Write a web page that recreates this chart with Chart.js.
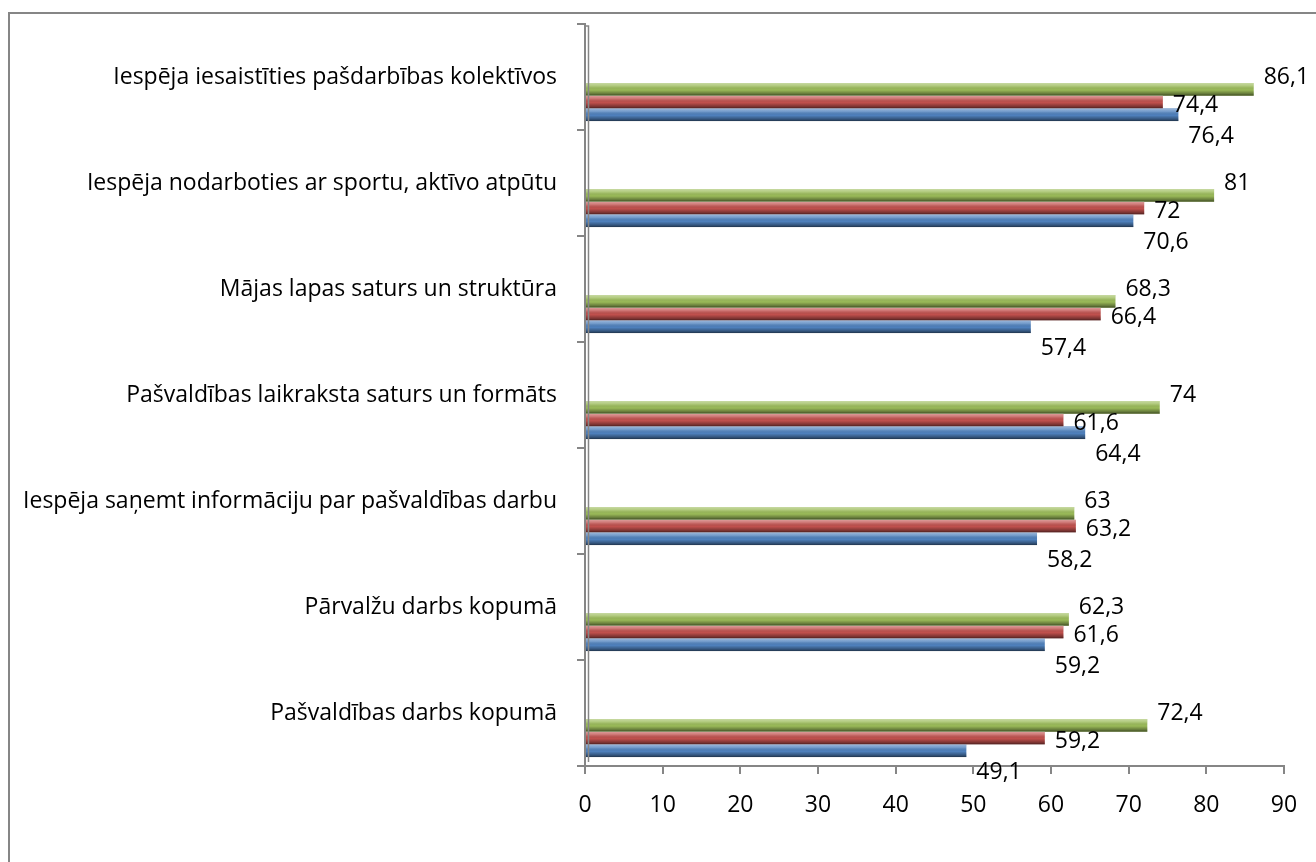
<!DOCTYPE html>
<html>
<head>
<meta charset="utf-8">
<script src="https://cdn.jsdelivr.net/npm/chart.js@4"></script>
<style>
  html, body { margin: 0; padding: 0; background: #fff; }
  #wrap { width: 1316px; height: 862px; position: relative; }
</style>
</head>
<body>
<div id="wrap"><canvas id="myChart"></canvas></div>
<script>
// categories top to bottom
const categories = [
    'Iespēja iesaistīties pašdarbības kolektīvos',
    'Iespēja nodarboties ar sportu, aktīvo atpūtu',
    'Mājas lapas saturs un struktūra',
    'Pašvaldības laikraksta saturs un formāts',
    'Iespēja saņemt informāciju par pašvaldības darbu',
    'Pārvalžu darbs kopumā',
    'Pašvaldības darbs kopumā'
];
const greenValues = [86.1, 81, 68.3, 74, 63, 62.3, 72.4];
const redValues = [74.4, 72, 66.4, 61.6, 63.2, 61.6, 59.2];
const blueValues = [76.4, 70.6, 57.4, 64.4, 58.2, 59.2, 49.1];
const xTicks = [0, 10, 20, 30, 40, 50, 60, 70, 80, 90];

const FONT = "'Open Sans'";
const FONT_SIZE = 23;
const AXIS_GREY = '#868686';
const BAR_SHIFT = 25; // 3D depth offset of the bars inside each band
const labelDy = [-12, 3, 22]; // green, red, blue label offsets

const frame = {
    id: 'frame',
    beforeDraw(chart) {
        const ctx = chart.ctx;
        ctx.save();
        ctx.strokeStyle = AXIS_GREY;
        ctx.lineWidth = 2;
        ctx.strokeRect(9, 13, 2000, 2000);
        ctx.restore();
    },
    afterDraw(chart) {
        // the back wall line next to the value axis
        const ctx = chart.ctx;
        const a = chart.chartArea;
        ctx.save();
        ctx.strokeStyle = AXIS_GREY;
        ctx.lineWidth = 1.5;
        ctx.beginPath();
        ctx.moveTo(a.left + 3.5, a.bottom - 4);
        ctx.lineTo(a.left + 3.5, a.top + 2);
        ctx.lineTo(a.left - 1, a.top + 2);
        ctx.stroke();
        ctx.restore();
    }
};

const bars3d = {
    id: 'bars3d',
    beforeDatasetsDraw(chart) {
        chart.ctx.save();
        chart.ctx.translate(0, BAR_SHIFT);
    },
    afterDatasetsDraw(chart) {
        const ctx = chart.ctx;
        chart.data.datasets.forEach((ds, i) => {
            chart.getDatasetMeta(i).data.forEach(bar => {
                const { x, y, base, height } = bar.getProps(['x', 'y', 'base', 'height'], true);
                const top = y - height / 2;
                const g = ctx.createLinearGradient(0, top, 0, top + height);
                g.addColorStop(0, 'rgba(255,255,255,0.45)');
                g.addColorStop(0.25, 'rgba(255,255,255,0.2)');
                g.addColorStop(0.55, 'rgba(0,0,0,0)');
                g.addColorStop(0.85, 'rgba(0,0,0,0.35)');
                g.addColorStop(1, 'rgba(0,0,0,0.6)');
                ctx.fillStyle = g;
                ctx.fillRect(base, top, x - base, height);
            });
        });
        ctx.restore();

        // value labels
        ctx.save();
        ctx.font = FONT_SIZE + 'px ' + FONT;
        ctx.fillStyle = '#000';
        ctx.textAlign = 'left';
        ctx.textBaseline = 'middle';
        chart.data.datasets.forEach((ds, i) => {
            chart.getDatasetMeta(i).data.forEach((bar, j) => {
                const txt = String(ds.data[j]).replace('.', ',');
                const w = ctx.measureText(txt).width;
                const lx = Math.min(bar.x + 10, chart.width - w - 2);
                ctx.fillText(txt, lx, bar.y + BAR_SHIFT + labelDy[i]);
            });
        });
        ctx.restore();
    }
};

const ctx = document.getElementById('myChart').getContext('2d');
new Chart(ctx, {
    type: 'bar',
    data: {
        labels: categories,
        datasets: [
            { label: 'Sērija 3', data: greenValues, backgroundColor: '#9bbb59' },
            { label: 'Sērija 2', data: redValues, backgroundColor: '#c0504d' },
            { label: 'Sērija 1', data: blueValues, backgroundColor: '#4f81bd' }
        ]
    },
    options: {
        indexAxis: 'y',
        responsive: true,
        maintainAspectRatio: false,
        animation: false,
        categoryPercentage: 0.36,
        barPercentage: 1,
        layout: { padding: { top: 24, right: 32, left: 0, bottom: 0 } },
        plugins: {
            legend: { display: false },
            tooltip: { enabled: false }
        },
        scales: {
            x: {
                min: 0,
                max: 90,
                afterBuildTicks: scale => { scale.ticks = xTicks.map(v => ({ value: v })); },
                afterFit: scale => { scale.height = 96; },
                border: { color: AXIS_GREY, width: 2 },
                grid: { drawOnChartArea: false, color: AXIS_GREY, lineWidth: 2, tickLength: 8 },
                ticks: { color: '#000', padding: 18, font: { family: FONT, size: FONT_SIZE } }
            },
            y: {
                afterFit: scale => {
                    scale.width = 585;
                    scale.paddingTop = 0;
                    scale.paddingBottom = 0;
                },
                border: { color: AXIS_GREY, width: 2 },
                grid: { offset: true, drawOnChartArea: false, color: AXIS_GREY, lineWidth: 2, tickLength: 8 },
                ticks: { color: '#000', padding: 20, font: { family: FONT, size: FONT_SIZE } }
            }
        }
    },
    plugins: [frame, bars3d]
});
</script>
</body>
</html>
